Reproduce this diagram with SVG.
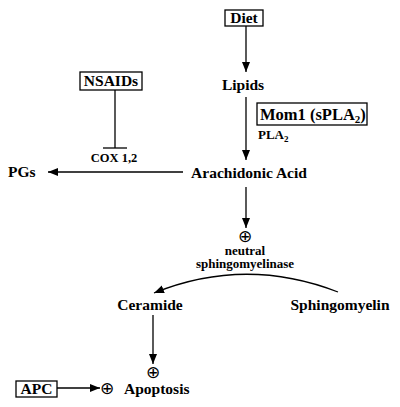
<svg xmlns="http://www.w3.org/2000/svg" width="400" height="407" viewBox="0 0 400 407">
<defs>
<marker id="ah" viewBox="0 0 10 10" refX="10" refY="5" markerWidth="10" markerHeight="10" markerUnits="userSpaceOnUse" orient="auto">
<path d="M0,1 L10,5 L0,9 Z" fill="#000"/>
</marker>
<style>
text{font-family:"Liberation Serif","Times New Roman",serif;font-weight:bold;fill:#000}
.l{font-size:15.5px}
.s{font-size:13px}
.c{text-anchor:middle}
.op{font-family:"DejaVu Sans",sans-serif;font-weight:normal;font-size:17px}
.box{fill:#fff;stroke:#000;stroke-width:1.3}
.ln{fill:none;stroke:#000;stroke-width:1.3}
</style>
</defs>
<rect width="400" height="407" fill="#fff"/>
<g id="connectors">
<line class="ln" x1="246" y1="26" x2="246" y2="72" marker-end="url(#ah)"/>
<line class="ln" x1="246" y1="97" x2="246" y2="160" marker-end="url(#ah)"/>
<line class="ln" x1="246" y1="187" x2="246" y2="228" marker-end="url(#ah)"/>
<line class="ln" x1="183" y1="172" x2="48" y2="172" marker-end="url(#ah)"/>
<line class="ln" x1="115" y1="90" x2="115" y2="148"/>
<line class="ln" x1="103" y1="148" x2="127" y2="148"/>
<path class="ln" d="M338,292 Q245,256 154,293" marker-end="url(#ah)"/>
<line class="ln" x1="153" y1="315" x2="153" y2="364" marker-end="url(#ah)"/>
<line class="ln" x1="57" y1="388" x2="100" y2="388" marker-end="url(#ah)"/>
</g>
<g id="diet"><rect class="box" x="225" y="10" width="38" height="16"/><text class="l c" x="244" y="23">Diet</text></g>
<g id="lipids"><text class="l c" x="243" y="90">Lipids</text></g>
<g id="mom1"><rect class="box" x="257" y="103" width="110" height="22"/><text x="260" y="120" style="font-size:16.5px">Mom1 (sPLA<tspan dy="3" style="font-size:11px">2</tspan><tspan dy="-3">)</tspan></text></g>
<g id="pla2"><text class="s" x="258" y="139">PLA<tspan dy="3" style="font-size:9px">2</tspan></text></g>
<g id="nsaids"><rect class="box" x="80" y="72" width="62" height="18"/><text class="l c" x="111" y="86">NSAIDs</text></g>
<g id="cox"><text class="c" x="114" y="162" style="font-size:12.5px">COX 1,2</text></g>
<g id="pgs"><text class="l" x="8" y="177">PGs</text></g>
<g id="aa"><text class="l c" x="249" y="178">Arachidonic Acid</text></g>
<g id="nsm"><text class="op c" x="245" y="242">⊕</text><text class="s c" x="245" y="254.5">neutral</text><text class="s c" x="245" y="268">sphingomyelinase</text></g>
<g id="ceramide"><text class="l c" x="150" y="310">Ceramide</text></g>
<g id="sphingomyelin"><text class="l c" x="340" y="310">Sphingomyelin</text></g>
<g id="apc"><rect class="box" x="16" y="381" width="41" height="16"/><text class="l c" x="36.5" y="394">APC</text></g>
<g id="apoptosis"><text class="op c" x="153" y="378">⊕</text><text class="op c" x="107" y="394">⊕</text><text class="l" x="124" y="394">Apoptosis</text></g>
</svg>
